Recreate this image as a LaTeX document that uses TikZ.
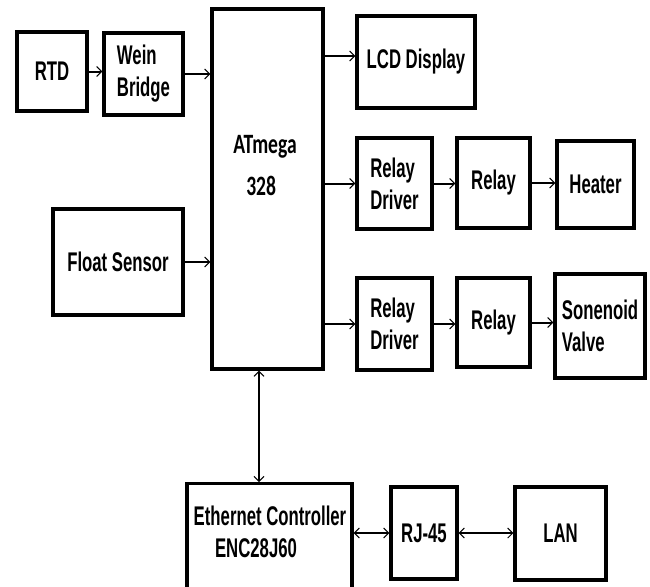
\documentclass[tikz,border=0pt]{standalone}
\usepackage{fontspec}
\setmainfont{Liberation Sans}[FakeStretch=0.62]
\newfontfamily\calfont{Carlito}[FakeStretch=0.7]
\usetikzlibrary{arrows.meta,calc}
\begin{document}
\begin{tikzpicture}[x=1pt,y=-1pt,
  box/.style={draw,line width=3.2pt,rectangle,inner sep=0pt,
    font=\fontsize{27}{32}\selectfont\bfseries,align=left},
  lab/.style={inner sep=0pt,font=\fontsize{27}{32}\selectfont\bfseries,align=center},
  tip/.tip={Straight Barb[length=5pt,width=10pt,line width=1pt]},
  arr/.style={line width=2pt,-tip},
  darr/.style={line width=2pt,tip-tip}
]
\useasboundingbox (0,0) rectangle (650,586);
\clip (0,0) rectangle (650,586);

% boxes
\node[box,minimum width=70pt,minimum height=79pt] (rtd) at (52,71.5) {RTD};
\node[box,minimum width=79pt,minimum height=82pt] (wein) at (143.5,74) {Wein\\Bridge};
\node[box,minimum width=111pt,minimum height=360pt] (atm) at (267.5,189) {};
\node[inner sep=0pt,font=\fontsize{28}{42}\selectfont\calfont\bfseries,align=left] (atmtxt) at (265,166) {ATmega\\\hspace*{13pt}328};
\node[box,minimum width=118pt,minimum height=92pt] (lcd) at (416,62) {LCD Display};
\node[box,minimum width=75pt,minimum height=91pt] (rd1) at (394.5,183.5) {Relay\\Driver};
\node[box,minimum width=73pt,minimum height=90pt] (rl1) at (493.5,183) {Relay};
\node[box,minimum width=77pt,minimum height=87pt] (heat) at (595.5,184.5) {Heater};
\node[box,minimum width=130pt,minimum height=106pt] (float) at (118,262) {Float Sensor};
\node[box,minimum width=75pt,minimum height=92pt] (rd2) at (394.5,324) {Relay\\Driver};
\node[box,minimum width=73pt,minimum height=89pt] (rl2) at (493.5,322.5) {Relay};
\node[box,minimum width=90pt,minimum height=104pt] (sol) at (600,326) {Sonenoid\\Valve};
\node[box,minimum width=165pt,minimum height=128pt,anchor=north] (eth) at (269.5,482) {};
\node[lab] (ethtxt) at (270,532) {Ethernet Controller\\\hspace*{-28pt}ENC28J60};
\node[box,minimum width=66pt,minimum height=92pt] (rj) at (424,533) {RJ-45};
\node[box,minimum width=91pt,minimum height=93pt] (lan) at (560.5,533.5) {LAN};

% connectors
\draw[arr] (rtd.east) -- (rtd.east -| wein.west);
\draw[arr] (wein.east) -- (wein.east -| atm.west);
\draw[arr] ([yshift=6pt]atm.east |- lcd.west) -- ([yshift=6pt]lcd.west);
\draw[arr] (atm.east |- rd1.west) -- (rd1.west);
\draw[arr] (rd1.east) -- (rd1.east -| rl1.west);
\draw[arr] (rl1.east) -- (rl1.east -| heat.west);
\draw[arr] (float.east) -- (float.east -| atm.west);
\draw[arr] (atm.east |- rd2.west) -- (rd2.west);
\draw[arr] (rd2.east) -- (rd2.east -| rl2.west);
\draw[arr] (rl2.east) -- (rl2.east -| sol.west);
\draw[darr] ([xshift=-8.5pt]atm.south) -- ([xshift=-8.5pt]atm.south |- eth.north);
\draw[darr] (eth.east |- rj.west) -- (rj.west);
\draw[darr] (rj.east) -- (rj.east -| lan.west);
\end{tikzpicture}
\end{document}
